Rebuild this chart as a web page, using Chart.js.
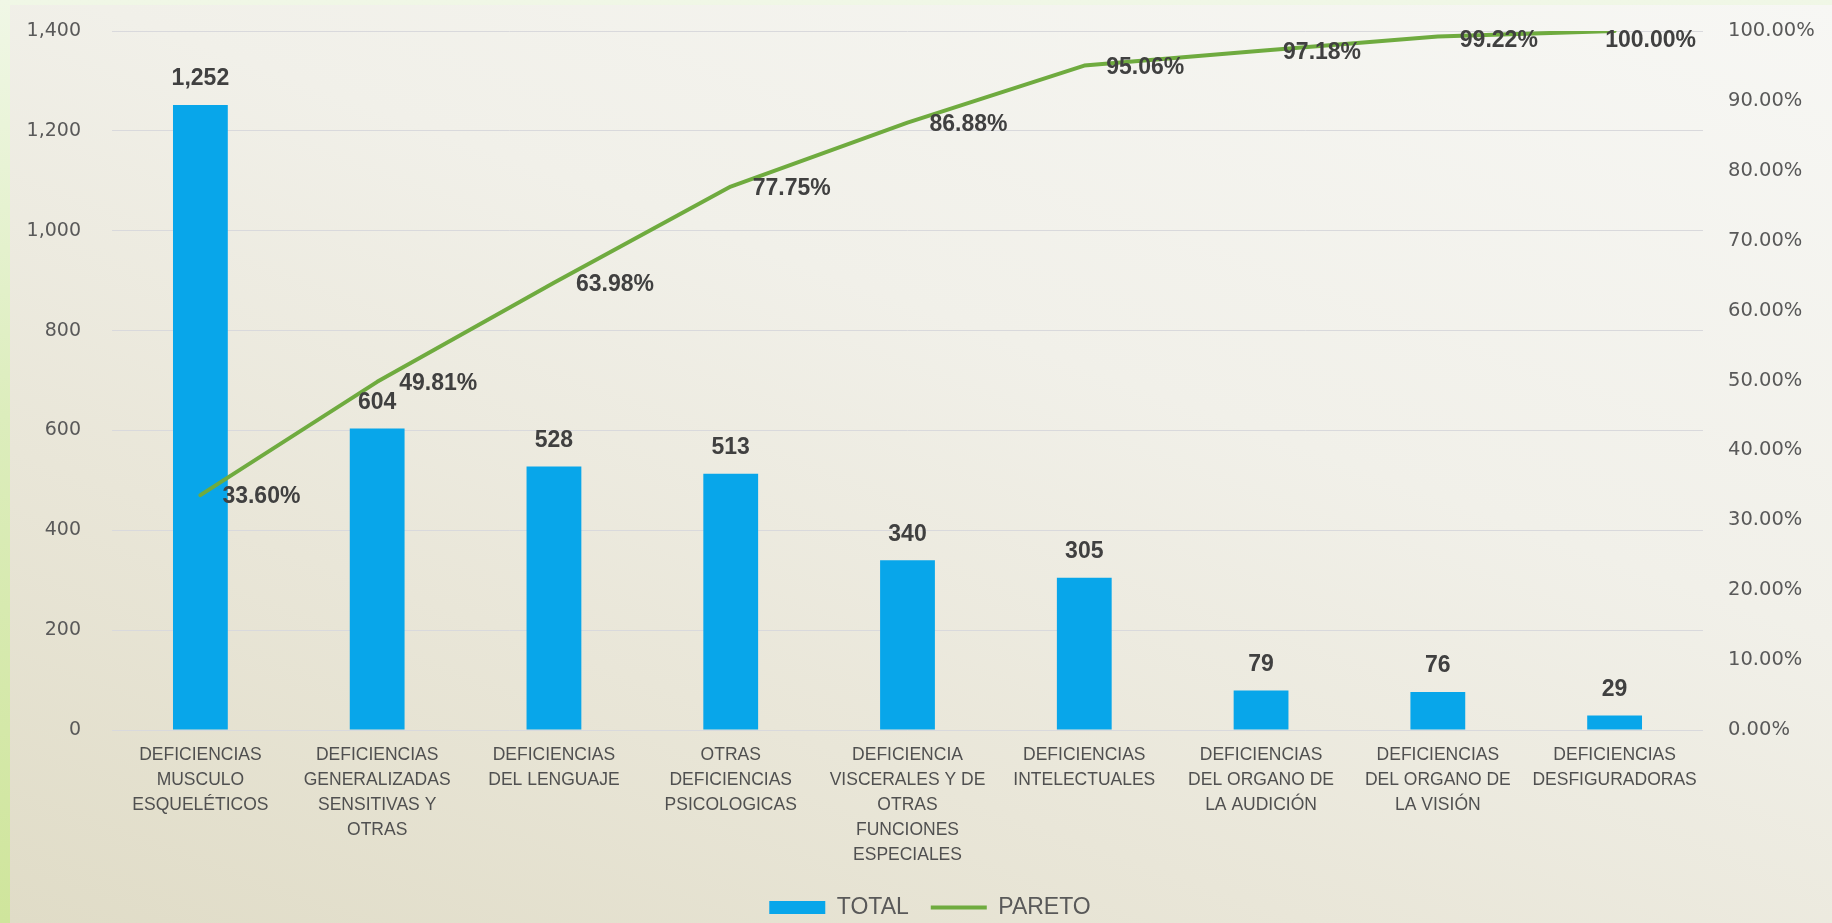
<!DOCTYPE html>
<html>
<head>
<meta charset="utf-8">
<script src="https://cdn.jsdelivr.net/npm/chart.js@4.4.1/dist/chart.umd.min.js"></script>
<style>
  html, body { margin: 0; padding: 0; width: 1832px; height: 923px; overflow: hidden; }
  #outer { position: absolute; left: 0; top: 0; width: 1832px; height: 923px;
    background: linear-gradient(to bottom, #f0f7e6 0%, #dcedbc 45%, #cfe59c 100%); }
  #inner { position: absolute; left: 10px; top: 5px; right: 0; bottom: 0;
    background: linear-gradient(200deg, #f7f7f4 0%, #f1f0e9 40%, #e9e6d8 70%, #e0dcc7 100%); }
  #wrap { position: absolute; left: 0; top: 0; width: 1832px; height: 923px; }
</style>
</head>
<body>
<div id="outer"></div>
<div id="inner"></div>
<div id="wrap"><canvas id="c" width="1832" height="923"></canvas></div>
<script>
const categories = [
  ["DEFICIENCIAS", "MUSCULO", "ESQUELÉTICOS"],
  ["DEFICIENCIAS", "GENERALIZADAS", "SENSITIVAS Y", "OTRAS"],
  ["DEFICIENCIAS", "DEL LENGUAJE"],
  ["OTRAS", "DEFICIENCIAS", "PSICOLOGICAS"],
  ["DEFICIENCIA", "VISCERALES Y DE", "OTRAS", "FUNCIONES", "ESPECIALES"],
  ["DEFICIENCIAS", "INTELECTUALES"],
  ["DEFICIENCIAS", "DEL ORGANO DE", "LA AUDICIÓN"],
  ["DEFICIENCIAS", "DEL ORGANO DE", "LA VISIÓN"],
  ["DEFICIENCIAS", "DESFIGURADORAS"]
];
const totalValues = [1252, 604, 528, 513, 340, 305, 79, 76, 29];
const paretoValues = [33.60, 49.81, 63.98, 77.75, 86.88, 95.06, 97.18, 99.22, 100.00];
const leftTicks = [0, 200, 400, 600, 800, 1000, 1200, 1400];
const rightTicks = [0, 10, 20, 30, 40, 50, 60, 70, 80, 90, 100];
const seriesNames = ["TOTAL", "PARETO"];

const BAR_COLOR = '#08a6ea';
const LINE_COLOR = '#6fab3f';
const LABEL_COLOR = '#404040';
const TICK_COLOR = '#595959';
const SANS = '"Liberation Sans", Arial, sans-serif';

const dataLabels = {
  id: 'dataLabels',
  afterDatasetsDraw(chart) {
    const ctx = chart.ctx;
    const area = chart.chartArea;
    ctx.save();
    ctx.fillStyle = LABEL_COLOR;
    ctx.font = 'bold 23px ' + SANS;
    const barMeta = chart.getDatasetMeta(0);
    ctx.textAlign = 'center';
    ctx.textBaseline = 'middle';
    barMeta.data.forEach((el, i) => {
      ctx.fillText(totalValues[i].toLocaleString('en-US'), el.x, el.y - 26);
    });
    const lineMeta = chart.getDatasetMeta(1);
    ctx.textAlign = 'left';
    lineMeta.data.forEach((pt, i) => {
      const txt = paretoValues[i].toFixed(2) + '%';
      const w = ctx.measureText(txt).width;
      let x = pt.x + 22;
      if (x + w > area.right - 7) x = area.right - 7 - w;
      let y = Math.max(pt.y + 2, area.top + 10);
      ctx.fillText(txt, x, y);
    });
    ctx.restore();
  }
};

const shiftLegend = {
  id: 'shiftLegend',
  afterLayout(chart) {
    const lg = chart.legend;
    if (lg) { lg.left += 14; lg.right += 14; lg.top += 6; lg.bottom += 6; }
  }
};

new Chart(document.getElementById('c'), {
  data: {
    labels: categories,
    datasets: [
      {
        type: 'bar', label: seriesNames[0], data: totalValues, yAxisID: 'y',
        backgroundColor: BAR_COLOR, borderWidth: 0, order: 1,
        barPercentage: 0.62, categoryPercentage: 0.5
      },
      {
        type: 'line', label: seriesNames[1], data: paretoValues, yAxisID: 'y1',
        borderColor: LINE_COLOR, backgroundColor: LINE_COLOR, borderWidth: 4,
        pointRadius: 0, tension: 0, order: 0, borderJoinStyle: 'round', borderCapStyle: 'round'
      }
    ]
  },
  options: {
    responsive: false,
    animation: false,
    layout: { padding: { left: 0, right: 0, top: 31, bottom: 0 } },
    plugins: {
      tooltip: { enabled: false },
      legend: {
        position: 'bottom',
        labels: {
          usePointStyle: true,
          pointStyleWidth: 56,
          boxHeight: 13,
          padding: 22,
          color: TICK_COLOR,
          font: { family: SANS, size: 23 },
          sort: (a, b) => a.datasetIndex - b.datasetIndex,
          generateLabels(chart) {
            const items = Chart.defaults.plugins.legend.labels.generateLabels(chart);
            items.forEach(it => {
              if (it.datasetIndex === 0) { it.pointStyle = 'rect'; it.lineWidth = 0; }
              else { it.pointStyle = 'line'; it.lineWidth = 4; it.strokeStyle = LINE_COLOR; }
            });
            return items;
          }
        }
      }
    },
    scales: {
      x: {
        offset: true,
        grid: { display: false, drawTicks: false },
        border: { display: false },
        ticks: {
          color: '#505050', padding: 13, autoSkip: false, maxRotation: 0,
          font: { family: SANS, size: 17.5, lineHeight: 1.43 }
        },
        afterFit(s) { s.height = 138; }
      },
      y: {
        position: 'left', min: 0, max: 1400,
        afterBuildTicks(s) { s.ticks = leftTicks.map(v => ({ value: v })); },
        grid: { color: '#d9d9dc', lineWidth: 1, drawTicks: true, tickLength: 27, tickColor: 'rgba(0,0,0,0)' },
        border: { display: false },
        ticks: {
          color: TICK_COLOR, padding: 4,
          font: { family: '"DejaVu Sans", sans-serif', size: 19 },
          callback: v => v.toLocaleString('en-US')
        },
        afterFit(s) { s.width = 112; }
      },
      y1: {
        position: 'right', min: 0, max: 100,
        afterBuildTicks(s) { s.ticks = rightTicks.map(v => ({ value: v })); },
        grid: { display: false, drawTicks: true, tickLength: 21, tickColor: 'rgba(0,0,0,0)' },
        border: { display: false },
        ticks: {
          color: TICK_COLOR, padding: 4,
          font: { family: '"DejaVu Sans", sans-serif', size: 19.5 },
          callback: v => v.toFixed(2) + '%'
        },
        afterFit(s) { s.width = 129; }
      }
    }
  },
  plugins: [dataLabels, shiftLegend]
});
</script>
</body>
</html>
